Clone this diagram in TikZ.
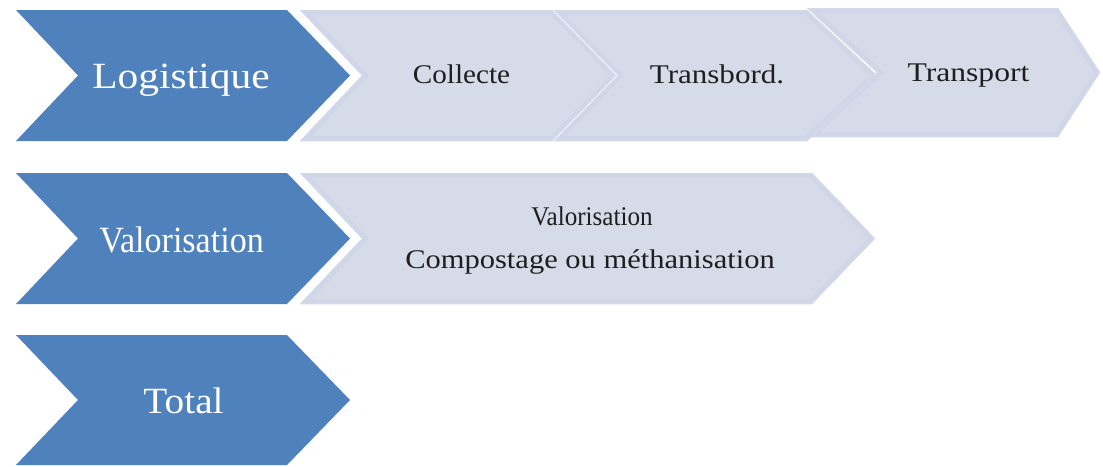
\documentclass[tikz,border=0pt]{standalone}
\usepackage{fontspec}
\setmainfont{Liberation Serif}
\usepackage{graphicx}
\definecolor{chevblue}{HTML}{4F81BD}
\definecolor{lightfill}{HTML}{D6DBEA}
\definecolor{lightband}{HTML}{D0D6E8}
\definecolor{darktext}{HTML}{1E1E1E}
\tikzset{
  bluetext/.style={anchor=base, inner sep=0pt, text=white, font=\fontsize{37}{44}\selectfont},
  darklabel/.style={anchor=base, inner sep=0pt, text=darktext, font=\fontsize{27}{32}\selectfont},
}
% light chevron: x0 x1 xtip ytop ybot xnotch
\newcommand\lightchev[6]{%
  \begin{scope}
    \clip (#1,#4) -- (#2,#4) -- (#3,{(#4+#5)/2}) -- (#2,#5) -- (#1,#5) -- (#6,{(#4+#5)/2}) -- cycle;
    \fill[lightfill] (#1,#4) -- (#2,#4) -- (#3,{(#4+#5)/2}) -- (#2,#5) -- (#1,#5) -- (#6,{(#4+#5)/2}) -- cycle;
    \draw[lightband, line width=10pt, line join=miter] (#1,#4) -- (#2,#4) -- (#3,{(#4+#5)/2}) -- (#2,#5) -- (#1,#5) -- (#6,{(#4+#5)/2}) -- cycle;
    \draw[lightfill!60!lightband, line width=3pt, line join=miter] (#1,#4) -- (#2,#4) -- (#3,{(#4+#5)/2}) -- (#2,#5) -- (#1,#5) -- (#6,{(#4+#5)/2}) -- cycle;
  \end{scope}}
\newcommand\bluechevron[2]{%
  \fill[chevblue] (16,#1) -- (287,#1) -- (350,{(#1+#2)/2}) -- (287,#2) -- (16,#2) -- (78,{(#1+#2)/2}) -- cycle;}
\begin{document}
\begin{tikzpicture}[x=1pt,y=-1pt]
\useasboundingbox (0,0) rectangle (1103,466);
\fill[white] (0,0) rectangle (1103,466);
% row 1 light chevrons (right to left so left ones are on top)
\lightchev{807}{1058}{1100}{8}{137}{877}
\lightchev{553}{807}{877}{10}{141}{617}
\lightchev{300}{553}{617}{10}{141}{362}
\draw[white!60!lightfill, line width=1pt] (553,10) -- (617,75.5) -- (553,141);
% row 2 light chevron
\lightchev{300}{812}{875}{173}{304}{362}
% blue chevrons
\bluechevron{10}{141}
\bluechevron{173}{304}
\bluechevron{335}{465}
% texts
\node[bluetext] (logistique) at (181,88) {\scalebox{1.12}[1]{Logistique}};
\node[bluetext] (valorisation) at (181.5,252) {\scalebox{0.92}[1]{Valorisation}};
\node[bluetext] (total) at (183.5,413) {\scalebox{1.06}[1]{Total}};
\node[darklabel] (collecte) at (461.5,83) {\scalebox{1.08}[1]{Collecte}};
\node[darklabel] (transbord) at (717,83) {\scalebox{1.15}[1]{Transbord.}};
\node[darklabel] (transport) at (968.5,81) {\scalebox{1.17}[1]{Transport}};
\node[darklabel] (valo2) at (592,225) {\scalebox{0.93}[1]{Valorisation}};
\node[darklabel] (compost) at (590,268) {\scalebox{1.13}[1]{Compostage ou méthanisation}};
\end{tikzpicture}
\end{document}
